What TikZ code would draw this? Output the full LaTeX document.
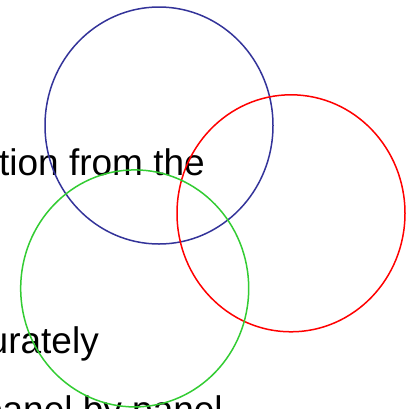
\documentclass[tikz,border=0pt]{standalone}
\usepackage{fontspec}
\setmainfont{Liberation Sans}
\usetikzlibrary{shapes.geometric}
\definecolor{ringblue}{RGB}{51,51,153}
\definecolor{ringgreen}{RGB}{51,204,51}
\begin{document}
\begin{tikzpicture}[x=1pt, y=-1pt,
    ring/.style={ellipse, minimum width=228pt, minimum height=237pt, inner sep=0pt, line width=1.5pt},
    words/.style={anchor=base east, inner sep=0pt, font=\fontsize{37}{44}\selectfont}]
    \useasboundingbox (0,0) rectangle (415,408);

    % the slide text behind the rings
    \node[words] (lineone) at (205,175) {tion from the};
    \node[words] (linetwo) at (99,353) {urately};
    \node[words] (linethree) at (223,422) {panel by panel};

    \node[ring, draw=ringblue] (blue) at (159,125.5) {};
    \node[ring, draw=red] (redring) at (291,213.3) {};
    \node[ring, draw=ringgreen] (green) at (134.7,288.4) {};
\end{tikzpicture}
\end{document}
